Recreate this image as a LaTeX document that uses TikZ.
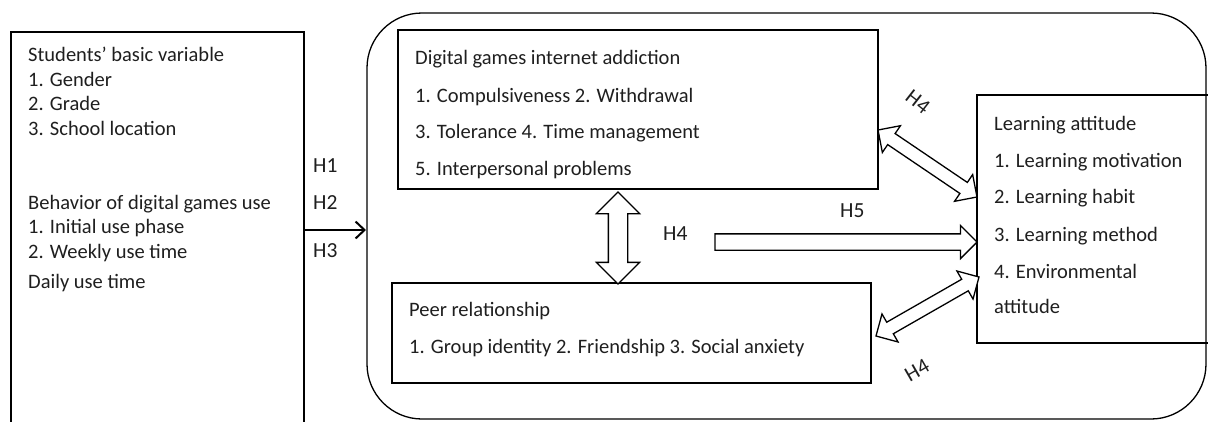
\documentclass[tikz,border=0pt]{standalone}
\usepackage{fontspec}
\setmainfont{Carlito}
\usetikzlibrary{shapes.arrows,calc,arrows.meta}
\newcommand\fatarrow[5]{%
  \path let \p1=($(#2)-(#1)$), \n1={atan2(\y1,\x1)}, \n2={veclen(\x1,\y1)} in
    node[fat, #5 arrow, rotate=\n1, minimum height=\n2, minimum width=#4,
         inner xsep=0pt, inner ysep={#3/2},
         #5 arrow head extend={(#4-#3)/2}] at ($(#1)!0.5!(#2)$) {};}
\begin{document}
\begin{tikzpicture}[x=1pt,y=-1pt,
  box/.style={draw=black, line width=1.3pt, inner sep=0pt, outer sep=0pt},
  txt/.style={anchor=base west, inner sep=0pt, font=\fontsize{20.5}{24}\selectfont, text=black!88},
  hlab/.style={inner sep=0pt, font=\fontsize{21.5}{24}\selectfont, text=black!88},
  fat/.style={draw=black, line width=1.3pt, fill=white, outer sep=0pt}]
\clip (0,0) rectangle (1208,421);
\fill[white] (0,0) rectangle (1208,421);
% boxes
\node[box, anchor=north west, minimum width=293pt, minimum height=398pt] (lb) at (11,32) {};
\node[box, anchor=north west, minimum width=839pt, minimum height=406pt, rounded corners=55pt] (big) at (367,13) {};
\node[box, anchor=north west, minimum width=480pt, minimum height=159pt] (dg) at (398,30) {};
\node[box, anchor=north west, minimum width=479pt, minimum height=100pt] (pr) at (392,283) {};
\node[box, anchor=north west, minimum width=253pt, minimum height=248pt] (la) at (977,95) {};
% left box text
\node[txt] (t1) at (28,61) {Students’ basic variable};
\node[txt] (t2) at (28,86) {1. Gender};
\node[txt] (t3) at (28,110) {2. Grade};
\node[txt] (t4) at (28,135) {3. School location};
\node[txt] (t5) at (28,209) {Behavior of digital games use};
\node[txt] (t6) at (28,233) {1. Initial use phase};
\node[txt] (t7) at (28,258) {2. Weekly use time};
\node[txt] (t8) at (28,288) {Daily use time};
% digital games text
\node[txt] (d1) at (415,64) {Digital games internet addiction};
\node[txt] (d2) at (415,102) {1. Compulsiveness 2. Withdrawal};
\node[txt] (d3) at (415,138) {3. Tolerance 4. Time management};
\node[txt] (d4) at (415,175) {5. Interpersonal problems};
% peer text
\node[txt] (p1) at (409,316) {Peer relationship};
\node[txt] (p2) at (409,353) {1. Group identity 2. Friendship 3. Social anxiety};
% learning attitude text
\node[txt] (l1) at (994,130) {Learning attitude};
\node[txt] (l2) at (994,167) {1. Learning motivation};
\node[txt] (l3) at (994,203) {2. Learning habit};
\node[txt] (l4) at (994,241) {3. Learning method};
\node[txt] (l5) at (994,278) {4. Environmental};
\node[txt] (l6) at (994,313) {attitude};
% H labels
\node[hlab, anchor=base west] (h1) at (313,172) {H1};
\node[hlab, anchor=base west] (h2) at (313,209) {H2};
\node[hlab, anchor=base west] (h3) at (313,257) {H3};
\node[hlab, anchor=base west] (h4m) at (663,240) {H4};
\node[hlab, anchor=base west] (h5) at (840,217) {H5};
\node[hlab, rotate=-38] (h4u) at (918,102) {H4};
\node[hlab, rotate=30] (h4l) at (917,370) {H4};
% thin arrow
\coordinate (hy) at (0,230);
\draw[line width=2pt, -{Straight Barb[length=9pt,width=17pt,line width=2pt]}] (lb.east |- hy) -- ([xshift=-1pt]big.west |- hy);
% fat arrows
\coordinate (v1) at ([xshift=220pt,yshift=-3pt]dg.south west);
\coordinate (v2) at ([xshift=226pt,yshift=-1pt]pr.north west);
\fatarrow{v1}{v2}{18pt}{42pt}{double}
\coordinate (h5s) at (711,242);
\coordinate (h5e) at ([xshift=-4pt]la.west |- h5s);
\fatarrow{h5s}{h5e}{15pt}{32pt}{single}
\coordinate (u1) at ([yshift=-100pt]dg.north east);
\coordinate (u2) at ([yshift=-102pt]la.north west);
\fatarrow{u1}{u2}{12pt}{31pt}{double}
\coordinate (w1) at ([xshift=5pt,yshift=-53pt]pr.north east);
\coordinate (w2) at ([xshift=2pt,yshift=-182pt]la.north west);
\fatarrow{w1}{w2}{12pt}{31pt}{double}
\end{tikzpicture}
\end{document}
